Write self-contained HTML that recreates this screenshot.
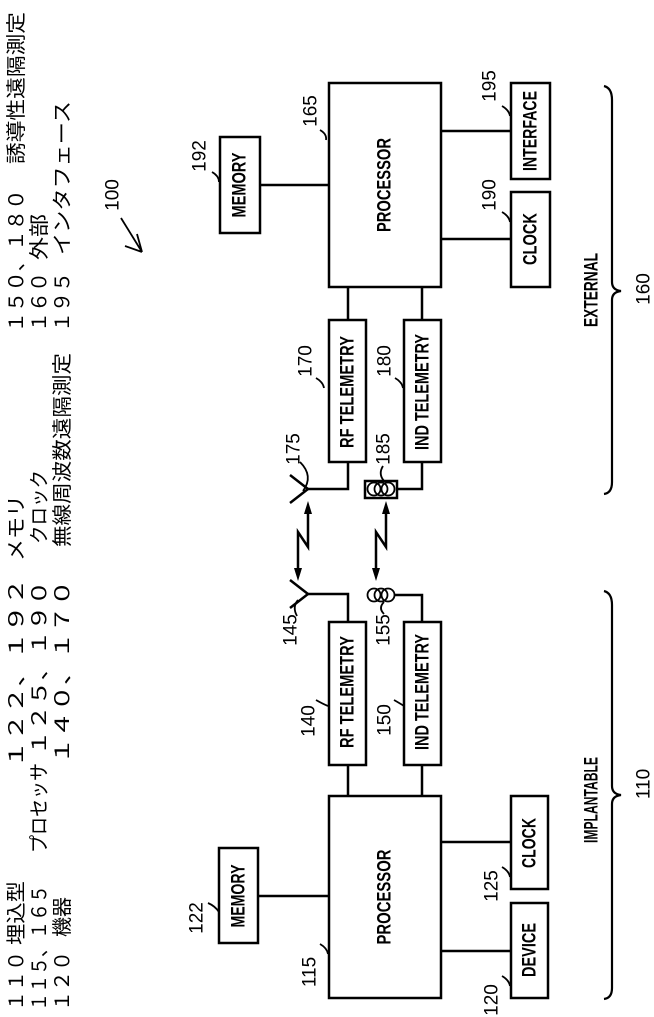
<!DOCTYPE html>
<html><head><meta charset="utf-8"><style>
html,body{margin:0;padding:0;background:#fff;}
svg{display:block;}
.b{font-family:"Liberation Sans Narrow","Liberation Sans",sans-serif;font-weight:bold;font-size:19px;fill:#000;}
.n{font-family:"Liberation Sans Narrow","Liberation Sans",sans-serif;font-size:19px;fill:#000;}
.j{font-family:"Liberation Sans","Noto Sans CJK JP",sans-serif;font-size:20px;fill:#000;}
</style></head><body>
<svg width="654" height="1017" viewBox="0 0 654 1017" xmlns="http://www.w3.org/2000/svg">
<g fill="none" stroke="#000" stroke-width="2.5">
<rect x="329" y="83" width="112" height="204"/>
<rect x="220" y="137" width="40" height="96"/>
<rect x="511" y="83" width="39" height="96"/>
<rect x="511" y="192" width="39" height="95"/>
<line x1="260" y1="185" x2="329" y2="185"/>
<line x1="441" y1="131" x2="511" y2="131"/>
<line x1="441" y1="239" x2="511" y2="239"/>
<line x1="348" y1="287" x2="348" y2="320"/>
<line x1="422" y1="287" x2="422" y2="320"/>
<rect x="329" y="320" width="37" height="142"/>
<rect x="404" y="320" width="37" height="142"/>
<polyline points="348,462 348,489 308,489"/>
<polyline points="290,475 308,489 290,503"/>
<rect x="365" y="481" width="32" height="17"/>
<polyline points="397,489 422,489 422,462"/>
<polyline points="308,506 308,547 298,532 298,576"/>
<polyline points="386,506 386,547 376,532 376,576"/>
<polyline points="290,580 308,594 290,608"/>
<polyline points="308,594 348,594 348,622"/>
<polyline points="395,595 422,595 422,622"/>
<rect x="329" y="622" width="37" height="143"/>
<rect x="404" y="622" width="37" height="143"/>
<line x1="348" y1="765" x2="348" y2="796"/>
<line x1="422" y1="765" x2="422" y2="796"/>
<rect x="329" y="796" width="112" height="202"/>
<rect x="219" y="848" width="39" height="95"/>
<line x1="258" y1="896" x2="329" y2="896"/>
<rect x="511" y="796" width="37" height="93"/>
<rect x="511" y="903" width="37" height="95"/>
<line x1="441" y1="842" x2="511" y2="842"/>
<line x1="441" y1="951" x2="511" y2="951"/>
</g>
<g fill="none" stroke="#000" stroke-width="1.8">
<circle cx="374" cy="489" r="6.5"/><circle cx="381" cy="489" r="6.5"/><circle cx="388" cy="489" r="6.5"/>
<circle cx="374" cy="595" r="6.5"/><circle cx="381" cy="595" r="6.5"/><circle cx="388" cy="595" r="6.5"/>
<path d="M604,86 Q612,88 612,100 L612,282 Q612,290 621,291 Q612,292 612,300 L612,482 Q612,493 604,494" stroke-width="2.2"/>
<path d="M604,591 Q612,593 612,605 L612,786 Q612,794 621,795 Q612,796 612,804 L612,988 Q612,998 604,999" stroke-width="2.2"/>
<path d="M300,462 Q314,476 303,491"/>
<path d="M298,600 Q292,607 297,616"/>
<path d="M383,466 Q378,474 384,481"/>
<path d="M384,602 Q378,608 384,614"/>
<path d="M320,130 Q327,134 326,140"/>
<path d="M212,172 Q219,176 219,182"/>
<path d="M502,106 Q509,110 510,116"/>
<path d="M502,212 Q509,216 510,222"/>
<path d="M316,378 Q323,382 324,388"/>
<path d="M395,378 Q402,382 403,388"/>
<path d="M316,700 Q323,704 328,706"/>
<path d="M394,700 Q401,704 404,706"/>
<path d="M320,944 Q327,948 328,954"/>
<path d="M208,903 Q215,906 219,912"/>
<path d="M502,867 Q509,871 510,877"/>
<path d="M502,976 Q509,980 510,986"/>
<path d="M121,218 L142,252 M142,252 L125,246 M142,252 L137,234"/>
</g>
<g fill="#000">
<polygon points="308,501 304,514 312,514"/>
<polygon points="298,581 294,568 302,568"/>
<polygon points="386,501 382,514 390,514"/>
<polygon points="376,581 372,568 380,568"/>
</g>
<g class="b" text-anchor="middle" dominant-baseline="central">
<text transform="translate(385,185) rotate(-90)" textLength="94" lengthAdjust="spacingAndGlyphs">PROCESSOR</text>
<text transform="translate(240,185) rotate(-90)" textLength="65" lengthAdjust="spacingAndGlyphs">MEMORY</text>
<text transform="translate(531,131) rotate(-90)" textLength="80" lengthAdjust="spacingAndGlyphs">INTERFACE</text>
<text transform="translate(531,239) rotate(-90)" textLength="52" lengthAdjust="spacingAndGlyphs">CLOCK</text>
<text transform="translate(348,392) rotate(-90)" textLength="112" lengthAdjust="spacingAndGlyphs">RF TELEMETRY</text>
<text transform="translate(423,392) rotate(-90)" textLength="116" lengthAdjust="spacingAndGlyphs">IND TELEMETRY</text>
<text transform="translate(348,692) rotate(-90)" textLength="112" lengthAdjust="spacingAndGlyphs">RF TELEMETRY</text>
<text transform="translate(423,692) rotate(-90)" textLength="116" lengthAdjust="spacingAndGlyphs">IND TELEMETRY</text>
<text transform="translate(385,897) rotate(-90)" textLength="95" lengthAdjust="spacingAndGlyphs">PROCESSOR</text>
<text transform="translate(239,896) rotate(-90)" textLength="63" lengthAdjust="spacingAndGlyphs">MEMORY</text>
<text transform="translate(530,843) rotate(-90)" textLength="50" lengthAdjust="spacingAndGlyphs">CLOCK</text>
<text transform="translate(530,950) rotate(-90)" textLength="54" lengthAdjust="spacingAndGlyphs">DEVICE</text>
<text transform="translate(592,290) rotate(-90)" textLength="74" lengthAdjust="spacingAndGlyphs">EXTERNAL</text>
<text transform="translate(592,800) rotate(-90)" textLength="86" lengthAdjust="spacingAndGlyphs">IMPLANTABLE</text>
</g>
<g class="n" text-anchor="middle" dominant-baseline="central">
<text transform="translate(311,111) rotate(-90)">165</text>
<text transform="translate(200,156) rotate(-90)">192</text>
<text transform="translate(490,86) rotate(-90)">195</text>
<text transform="translate(490,195) rotate(-90)">190</text>
<text transform="translate(113,195) rotate(-90)">100</text>
<text transform="translate(644,289) rotate(-90)">160</text>
<text transform="translate(306,361) rotate(-90)">170</text>
<text transform="translate(385,361) rotate(-90)">180</text>
<text transform="translate(294,449) rotate(-90)">175</text>
<text transform="translate(384,449) rotate(-90)">185</text>
<text transform="translate(291,630) rotate(-90)">145</text>
<text transform="translate(384,630) rotate(-90)">155</text>
<text transform="translate(309,721) rotate(-90)">140</text>
<text transform="translate(385,720) rotate(-90)">150</text>
<text transform="translate(310,972) rotate(-90)">115</text>
<text transform="translate(197,918) rotate(-90)">122</text>
<text transform="translate(492,886) rotate(-90)">125</text>
<text transform="translate(492,1000) rotate(-90)">120</text>
<text transform="translate(644,784) rotate(-90)">110</text>
</g>
<g class="j" text-anchor="middle" dominant-baseline="central">
<text transform="translate(17,981) rotate(-90)" textLength="60" lengthAdjust="spacingAndGlyphs">１１０</text>
<text transform="translate(17,913) rotate(-90)" textLength="64" lengthAdjust="spacingAndGlyphs">埋込型</text>
<text transform="translate(17,673) rotate(-90)" textLength="190" lengthAdjust="spacingAndGlyphs">１２２、１９２</text>
<text transform="translate(17,528) rotate(-90)" textLength="66" lengthAdjust="spacingAndGlyphs">メモリ</text>
<text transform="translate(17,261) rotate(-90)" textLength="143" lengthAdjust="spacingAndGlyphs">１５０、１８０</text>
<text transform="translate(17,88) rotate(-90)" textLength="152" lengthAdjust="spacingAndGlyphs">誘導性遠隔測定</text>

<text transform="translate(40,948) rotate(-90)" textLength="126" lengthAdjust="spacingAndGlyphs">１１５、１６５</text>
<text transform="translate(40,808) rotate(-90)" textLength="90" lengthAdjust="spacingAndGlyphs">プロセッサ</text>
<text transform="translate(40,668) rotate(-90)" textLength="175" lengthAdjust="spacingAndGlyphs">１２５、１９０</text>
<text transform="translate(40,507) rotate(-90)" textLength="74" lengthAdjust="spacingAndGlyphs">クロック</text>
<text transform="translate(40,302) rotate(-90)" textLength="60" lengthAdjust="spacingAndGlyphs">１６０</text>
<text transform="translate(40,237) rotate(-90)" textLength="46" lengthAdjust="spacingAndGlyphs">外部</text>

<text transform="translate(63,981) rotate(-90)" textLength="60" lengthAdjust="spacingAndGlyphs">１２０</text>
<text transform="translate(63,917) rotate(-90)" textLength="40" lengthAdjust="spacingAndGlyphs">機器</text>
<text transform="translate(63,672) rotate(-90)" textLength="184" lengthAdjust="spacingAndGlyphs">１４０、１７０</text>
<text transform="translate(63,450) rotate(-90)" textLength="194" lengthAdjust="spacingAndGlyphs">無線周波数遠隔測定</text>
<text transform="translate(63,302) rotate(-90)" textLength="60" lengthAdjust="spacingAndGlyphs">１９５</text>
<text transform="translate(63,178) rotate(-90)" textLength="154" lengthAdjust="spacingAndGlyphs">インタフェース</text>
</g>
</svg>
</body></html>
